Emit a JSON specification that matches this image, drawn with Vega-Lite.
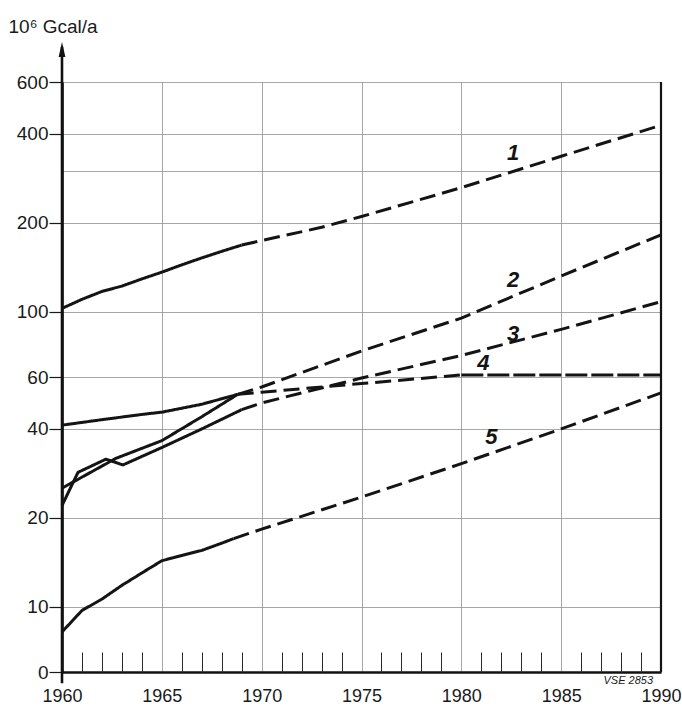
{
  "$schema": "https://vega.github.io/schema/vega-lite/v6.json",
  "width": 599,
  "height": 590,
  "autosize": {"type": "none"},
  "padding": {"left": 62, "top": 82, "right": 21, "bottom": 35},
  "background": "#ffffff",
  "config": {"view": {"stroke": null}, "font": "Liberation Sans, sans-serif"},
  "datasets": {
    "lines": [
      {"series": "1", "phase": "observed", "year": 1960, "value": 102.5},
      {"series": "1", "phase": "observed", "year": 1961, "value": 110},
      {"series": "1", "phase": "observed", "year": 1962, "value": 117},
      {"series": "1", "phase": "observed", "year": 1963, "value": 122},
      {"series": "1", "phase": "observed", "year": 1964, "value": 129},
      {"series": "1", "phase": "observed", "year": 1965, "value": 136},
      {"series": "1", "phase": "observed", "year": 1966, "value": 144},
      {"series": "1", "phase": "observed", "year": 1967, "value": 152},
      {"series": "1", "phase": "observed", "year": 1968, "value": 160},
      {"series": "1", "phase": "observed", "year": 1969, "value": 168},
      {"series": "1", "phase": "forecast", "year": 1969, "value": 168},
      {"series": "1", "phase": "forecast", "year": 1970, "value": 174},
      {"series": "1", "phase": "forecast", "year": 1973, "value": 193},
      {"series": "1", "phase": "forecast", "year": 1975, "value": 210},
      {"series": "1", "phase": "forecast", "year": 1980, "value": 263},
      {"series": "1", "phase": "forecast", "year": 1985, "value": 336},
      {"series": "1", "phase": "forecast", "year": 1990, "value": 428},
      {"series": "2", "phase": "observed", "year": 1960, "value": 25.2},
      {"series": "2", "phase": "observed", "year": 1960.5, "value": 26.3},
      {"series": "2", "phase": "observed", "year": 1962.7, "value": 31.8},
      {"series": "2", "phase": "observed", "year": 1965, "value": 36.5},
      {"series": "2", "phase": "observed", "year": 1967, "value": 44},
      {"series": "2", "phase": "observed", "year": 1968.8, "value": 52.4},
      {"series": "2", "phase": "forecast", "year": 1968.8, "value": 52.4},
      {"series": "2", "phase": "forecast", "year": 1970, "value": 55.5},
      {"series": "2", "phase": "forecast", "year": 1975, "value": 73.5},
      {"series": "2", "phase": "forecast", "year": 1980, "value": 95},
      {"series": "2", "phase": "forecast", "year": 1985, "value": 132},
      {"series": "2", "phase": "forecast", "year": 1990, "value": 182},
      {"series": "3", "phase": "observed", "year": 1960, "value": 22.0},
      {"series": "3", "phase": "observed", "year": 1960.8, "value": 28.5},
      {"series": "3", "phase": "observed", "year": 1962.2, "value": 31.6},
      {"series": "3", "phase": "observed", "year": 1963.05, "value": 30.2},
      {"series": "3", "phase": "observed", "year": 1965, "value": 34.6},
      {"series": "3", "phase": "observed", "year": 1967, "value": 40},
      {"series": "3", "phase": "observed", "year": 1969, "value": 46.5},
      {"series": "3", "phase": "forecast", "year": 1969, "value": 46.5},
      {"series": "3", "phase": "forecast", "year": 1970, "value": 49},
      {"series": "3", "phase": "forecast", "year": 1975, "value": 59.5},
      {"series": "3", "phase": "forecast", "year": 1980, "value": 71},
      {"series": "3", "phase": "forecast", "year": 1985, "value": 87},
      {"series": "3", "phase": "forecast", "year": 1990, "value": 108},
      {"series": "4", "phase": "observed", "year": 1960, "value": 41.2},
      {"series": "4", "phase": "observed", "year": 1962, "value": 43},
      {"series": "4", "phase": "observed", "year": 1964, "value": 44.8},
      {"series": "4", "phase": "observed", "year": 1965, "value": 45.6},
      {"series": "4", "phase": "observed", "year": 1967, "value": 48.5},
      {"series": "4", "phase": "observed", "year": 1968.8, "value": 52.4},
      {"series": "4", "phase": "forecast", "year": 1968.8, "value": 52.4},
      {"series": "4", "phase": "forecast", "year": 1970, "value": 53.3},
      {"series": "4", "phase": "forecast", "year": 1975, "value": 57},
      {"series": "4", "phase": "forecast", "year": 1980, "value": 61},
      {"series": "4", "phase": "plateau", "year": 1980, "value": 61},
      {"series": "4", "phase": "plateau", "year": 1990, "value": 61},
      {"series": "5", "phase": "observed", "year": 1960, "value": 8.2},
      {"series": "5", "phase": "observed", "year": 1961, "value": 9.7},
      {"series": "5", "phase": "observed", "year": 1962, "value": 10.6},
      {"series": "5", "phase": "observed", "year": 1963, "value": 11.8},
      {"series": "5", "phase": "observed", "year": 1964, "value": 13.0},
      {"series": "5", "phase": "observed", "year": 1965, "value": 14.3},
      {"series": "5", "phase": "observed", "year": 1966, "value": 14.9},
      {"series": "5", "phase": "observed", "year": 1967, "value": 15.5},
      {"series": "5", "phase": "observed", "year": 1968, "value": 16.4},
      {"series": "5", "phase": "observed", "year": 1968.6, "value": 17.0},
      {"series": "5", "phase": "forecast", "year": 1968.6, "value": 17.0},
      {"series": "5", "phase": "forecast", "year": 1970, "value": 18.3},
      {"series": "5", "phase": "forecast", "year": 1975, "value": 23.5},
      {"series": "5", "phase": "forecast", "year": 1980, "value": 30.5},
      {"series": "5", "phase": "forecast", "year": 1985, "value": 40},
      {"series": "5", "phase": "forecast", "year": 1990, "value": 53}
    ],
    "labels": [
      {"label": "1", "year": 1982.6, "value": 345},
      {"label": "2", "year": 1982.6, "value": 128},
      {"label": "3", "year": 1982.6, "value": 84},
      {"label": "4", "year": 1981.1, "value": 67},
      {"label": "5", "year": 1981.5, "value": 37.5}
    ]
  },
  "layer": [
    {
      "data": {"name": "lines"},
      "mark": {"type": "line", "color": "#141414", "strokeWidth": 3, "strokeCap": "butt", "strokeJoin": "round"},
      "encoding": {
        "x": {
          "field": "year", "type": "quantitative",
          "scale": {"domain": [1960, 1990], "nice": false, "zero": false},
          "axis": {
            "orient": "bottom",
            "values": [1960, 1965, 1970, 1975, 1980, 1985, 1990],
            "format": "d",
            "grid": true, "gridColor": "#929292", "gridWidth": 0.8,
            "tickSize": 0, "labelPadding": 15,
            "labelFontSize": 18, "labelColor": "#1a1a1a",
            "labelFlush": false, "labelOverlap": false,
            "domainColor": "#111111", "domainWidth": 2.6,
            "title": null
          }
        },
        "y": {
          "field": "value", "type": "quantitative",
          "scale": {"type": "log", "domain": [6, 600], "nice": false},
          "axis": {
            "values": [6, 10, 20, 40, 60, 100, 200, 300, 400, 600],
            "format": "d",
            "labelExpr": "datum.value == 6 ? '0' : (datum.value == 300 ? '' : datum.label)",
            "grid": true, "gridColor": "#929292", "gridWidth": 0.8,
            "tickSize": 13, "tickColor": "#1a1a1a", "tickWidth": 1.2,
            "tickOpacity": {"condition": {"test": "datum.value == 300", "value": 0}, "value": 1},
            "domainColor": "#111111", "domainWidth": 2.6,
            "labelFontSize": 19, "labelColor": "#1a1a1a", "labelPadding": 1,
            "title": "10⁶ Gcal/a", "titleAngle": 0, "titleAlign": "left", "titleBaseline": "top",
            "titleX": -54, "titleY": -65, "titleFontSize": 19, "titleFontWeight": "normal", "titleColor": "#1a1a1a"
          }
        },
        "strokeDash": {
          "field": "phase", "type": "nominal",
          "scale": {"domain": ["observed", "forecast", "plateau"], "range": [[1, 0], [16, 7], [22, 4]]},
          "legend": null
        },
        "detail": {"field": "series"}
      }
    },
    {
      "data": {"values": [{}]},
      "mark": {"type": "rule", "color": "#141414", "strokeWidth": 2.2},
      "encoding": {
        "x": {
          "datum": 1990, "type": "quantitative",
          "axis": {
            "orient": "bottom",
            "values": [1961, 1962, 1963, 1964, 1966, 1967, 1968, 1969, 1971, 1972, 1973, 1974, 1976, 1977, 1978, 1979, 1981, 1982, 1983, 1984, 1986, 1987, 1988, 1989],
            "labels": false, "domain": false, "grid": false,
            "tickSize": -20, "tickColor": "#2a2a2a", "tickWidth": 1,
            "title": null
          }
        },
        "y": {"datum": 6, "type": "quantitative"},
        "y2": {"datum": 600}
      }
    },
    {
      "data": {"values": [{}]},
      "mark": {"type": "rule", "color": "#111111", "strokeWidth": 2.6},
      "encoding": {
        "x": {"datum": 1960, "type": "quantitative", "axis": null},
        "y": {"datum": 5.5, "type": "quantitative"},
        "y2": {"datum": 790}
      }
    },
    {
      "data": {"values": [{}]},
      "mark": {"type": "point", "shape": "M0,-1L0.45,1L-0.45,1Z", "size": 225, "filled": true, "color": "#111111", "opacity": 1},
      "encoding": {
        "x": {"datum": 1960, "type": "quantitative", "axis": null},
        "y": {"datum": 773, "type": "quantitative"}
      }
    },
    {
      "data": {"values": [{}]},
      "mark": {"type": "text", "text": "VSE 2853", "align": "right", "baseline": "alphabetic", "fontSize": 11, "fontStyle": "italic", "font": "Liberation Sans Narrow, Liberation Sans", "color": "#1a1a1a"},
      "encoding": {
        "x": {"datum": 1989.6, "type": "quantitative", "axis": null},
        "y": {"datum": 5.45, "type": "quantitative"}
      }
    },
    {
      "data": {"name": "labels"},
      "mark": {"type": "text", "fontSize": 22, "fontStyle": "italic", "fontWeight": "bold", "color": "#141414", "align": "center", "baseline": "middle"},
      "encoding": {
        "x": {"field": "year", "type": "quantitative", "axis": null},
        "y": {"field": "value", "type": "quantitative"},
        "text": {"field": "label"}
      }
    }
  ],
  "resolve": {"axis": {"x": "independent"}}
}
